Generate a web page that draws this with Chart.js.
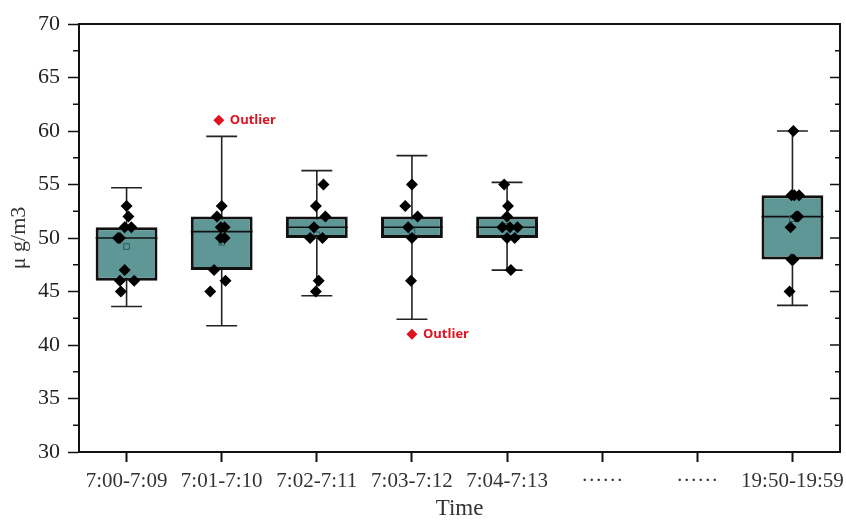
<!DOCTYPE html>
<html lang="en">
<head>
    <meta charset="UTF-8">
    <title>Box plot</title>
    <script src="https://cdn.jsdelivr.net/npm/chart.js"></script>
    <style>
        body { margin: 0; background: #fff; }
        .chart-container { width: 846px; height: 520px; }
    </style>
</head>
<body>
    <div class="chart-container">
        <canvas id="box-chart"></canvas>
    </div>

    <script>
        // categories along the time axis
        const categories = ['7:00-7:09', '7:01-7:10', '7:02-7:11', '7:03-7:12', '7:04-7:13', '······', '······', '19:50-19:59'];

        // box statistics (null = no box for that slot)
        const q1 = [46, 47, 50, 50, 50, null, null, 48];
        const q3 = [51, 52, 52, 52, 52, null, null, 54];
        const medians = [50, 50.6, 51, 51, 51, null, null, 52];
        const whiskerLow = [43.6, 41.8, 44.6, 42.4, 47, null, null, 43.7];
        const whiskerHigh = [54.7, 59.5, 56.3, 57.7, 55.2, null, null, 60];
        const means = [49.2, 49.6, 50.3, 50.6, 51.1, null, null, 51.8];

        // raw samples per slot and their small horizontal jitter (in category units)
        const samples = [
            [53, 52, 51, 51, 50, 50, 47, 46, 46, 45],
            [53, 52, 51, 51, 50, 50, 47, 46, 45],
            [55, 53, 52, 51, 50, 50, 46, 45],
            [55, 53, 52, 51, 50, 46],
            [55, 53, 52, 51, 51, 51, 50, 50, 47],
            [],
            [],
            [60, 54, 54, 54, 52, 52, 51, 48, 48, 45]
        ];
        const jitter = [
            [0.00, 0.02, -0.02, 0.05, -0.09, -0.07, -0.02, -0.07, 0.08, -0.06],
            [0.00, -0.05, -0.01, 0.03, -0.01, 0.03, -0.08, 0.04, -0.12],
            [0.07, -0.01, 0.09, -0.03, -0.07, 0.06, 0.02, -0.01],
            [0.00, -0.07, 0.06, -0.04, 0.00, -0.01],
            [-0.03, 0.01, 0.00, -0.05, 0.03, 0.11, 0.00, 0.08, 0.04],
            [],
            [],
            [0.01, -0.01, 0.02, 0.07, 0.04, 0.06, -0.02, -0.01, 0.01, -0.03]
        ];

        // outliers: slot, value and jitter
        const outlierSlots = [1, 3];
        const outlierValues = [61, 41];
        const outlierJitter = [-0.03, 0.0];
        const outlierText = 'Outlier';

        const boxColor = '#5f9797';
        const outlierColor = '#e0121f';

        const boxData = q1.map((v, i) => v === null ? null : [v, q3[i]]);
        const meanData = means.map((v, i) => v === null ? null : { x: i, y: v }).filter(p => p);
        const pointData = [];
        samples.forEach((list, i) => {
            list.forEach((v, j) => pointData.push({ x: i + jitter[i][j], y: v }));
        });
        const outlierData = outlierSlots.map((s, k) => ({ x: s + outlierJitter[k], y: outlierValues[k] }));

        // whiskers, caps, medians, frame, minor ticks and outlier labels
        const boxExtras = {
            id: 'boxExtras',
            beforeDatasetsDraw(chart) {
                const ctx = chart.ctx;
                const y = chart.scales.y;
                const bars = chart.getDatasetMeta(0).data;
                ctx.save();
                ctx.strokeStyle = '#222';
                ctx.lineWidth = 1.6;
                bars.forEach((bar, i) => {
                    if (whiskerLow[i] === null) return;
                    const half = bar.width / 4;
                    const yl = y.getPixelForValue(whiskerLow[i]);
                    const yh = y.getPixelForValue(whiskerHigh[i]);
                    ctx.beginPath();
                    ctx.moveTo(bar.x, yl);
                    ctx.lineTo(bar.x, yh);
                    ctx.moveTo(bar.x - half, yl);
                    ctx.lineTo(bar.x + half, yl);
                    ctx.moveTo(bar.x - half, yh);
                    ctx.lineTo(bar.x + half, yh);
                    ctx.stroke();
                });
                ctx.restore();
            },
            afterDatasetDraw(chart, args) {
                if (args.index !== 0) return;
                const ctx = chart.ctx;
                const y = chart.scales.y;
                ctx.save();
                ctx.strokeStyle = '#111';
                ctx.lineWidth = 1.6;
                args.meta.data.forEach((bar, i) => {
                    if (medians[i] === null) return;
                    const ym = y.getPixelForValue(medians[i]);
                    ctx.beginPath();
                    ctx.moveTo(bar.x - bar.width / 2, ym);
                    ctx.lineTo(bar.x + bar.width / 2, ym);
                    ctx.stroke();
                });
                ctx.restore();
            },
            afterDraw(chart) {
                const ctx = chart.ctx;
                const area = chart.chartArea;
                const y = chart.scales.y;
                const xj = chart.scales.xj;
                ctx.save();
                ctx.strokeStyle = '#111';
                ctx.lineWidth = 2;
                ctx.beginPath();
                ctx.moveTo(area.left, area.top);
                ctx.lineTo(area.right, area.top);
                ctx.lineTo(area.right, area.bottom);
                ctx.stroke();

                // minor ticks on the left, major + minor ticks inside the right frame
                ctx.lineWidth = 1.5;
                ctx.beginPath();
                for (let v = y.min; v <= y.max; v += 2.5) {
                    const py = y.getPixelForValue(v);
                    const major = v % 5 === 0;
                    if (!major) {
                        ctx.moveTo(area.left - 6, py);
                        ctx.lineTo(area.left, py);
                    }
                    if (v > y.min && v < y.max) {
                        ctx.moveTo(area.right, py);
                        ctx.lineTo(area.right - (major ? 10 : 5), py);
                    }
                }
                ctx.stroke();

                ctx.fillStyle = outlierColor;
                ctx.font = 'bold 13px "Open Sans"';
                ctx.textAlign = 'left';
                ctx.textBaseline = 'middle';
                outlierData.forEach(p => {
                    ctx.fillText(outlierText, xj.getPixelForValue(p.x) + 11, y.getPixelForValue(p.y));
                });
                ctx.restore();
            }
        };

        const ctx = document.getElementById('box-chart').getContext('2d');
        new Chart(ctx, {
            type: 'bar',
            data: {
                labels: categories,
                datasets: [
                    {
                        type: 'bar',
                        data: boxData,
                        backgroundColor: boxColor,
                        borderColor: '#111',
                        borderWidth: 3,
                        borderSkipped: false,
                        grouped: false,
                        barPercentage: 0.65,
                        categoryPercentage: 1,
                        order: 4
                    },
                    {
                        type: 'scatter',
                        xAxisID: 'xj',
                        data: meanData,
                        pointStyle: 'rect',
                        pointRadius: 4,
                        borderColor: '#2c5858',
                        backgroundColor: 'rgba(0,0,0,0)',
                        borderWidth: 1,
                        order: 3
                    },
                    {
                        type: 'scatter',
                        xAxisID: 'xj',
                        data: pointData,
                        pointStyle: 'rectRot',
                        pointRadius: 6,
                        backgroundColor: '#000',
                        borderColor: '#000',
                        borderWidth: 0,
                        order: 2
                    },
                    {
                        type: 'scatter',
                        xAxisID: 'xj',
                        data: outlierData,
                        pointStyle: 'rectRot',
                        pointRadius: 5.5,
                        backgroundColor: outlierColor,
                        borderColor: outlierColor,
                        borderWidth: 0,
                        order: 1
                    }
                ]
            },
            options: {
                responsive: true,
                maintainAspectRatio: false,
                animation: false,
                layout: { padding: { top: 24, right: 6, left: 0, bottom: 0 } },
                plugins: {
                    legend: { display: false },
                    tooltip: { enabled: false }
                },
                scales: {
                    x: {
                        type: 'category',
                        offset: true,
                        grid: {
                            offset: false,
                            drawOnChartArea: false,
                            tickLength: 10,
                            tickWidth: 2,
                            tickColor: '#111'
                        },
                        border: { color: '#111', width: 2 },
                        ticks: {
                            color: '#333',
                            padding: 7,
                            maxRotation: 0,
                            autoSkip: false,
                            font: { family: '"Liberation Serif"', size: 21 }
                        },
                        title: {
                            display: true,
                            text: 'Time',
                            color: '#333',
                            padding: { top: 0, bottom: 0 },
                            font: { family: '"Liberation Serif"', size: 23, lineHeight: 1 }
                        },
                        afterFit(scale) {
                            scale.height = 68;
                            scale.paddingLeft = 0;
                            scale.paddingRight = 0;
                        }
                    },
                    xj: {
                        type: 'linear',
                        display: false,
                        offset: false,
                        min: -0.5,
                        max: 7.5
                    },
                    y: {
                        min: 30,
                        max: 70,
                        ticks: {
                            stepSize: 5,
                            color: '#222',
                            padding: 8,
                            font: { family: '"Liberation Serif"', size: 22 }
                        },
                        grid: {
                            drawOnChartArea: false,
                            tickLength: 11,
                            tickWidth: 1.5,
                            tickColor: '#111'
                        },
                        border: { color: '#111', width: 2 },
                        title: {
                            display: true,
                            text: 'μ g/m3',
                            color: '#333',
                            padding: { top: 8, bottom: 0 },
                            font: { family: '"Liberation Serif"', size: 22, lineHeight: 1 }
                        },
                        afterFit(scale) {
                            scale.width = 79;
                            scale.paddingTop = 0;
                            scale.paddingBottom = 0;
                        }
                    }
                }
            },
            plugins: [boxExtras]
        });
    </script>
</body>
</html>
